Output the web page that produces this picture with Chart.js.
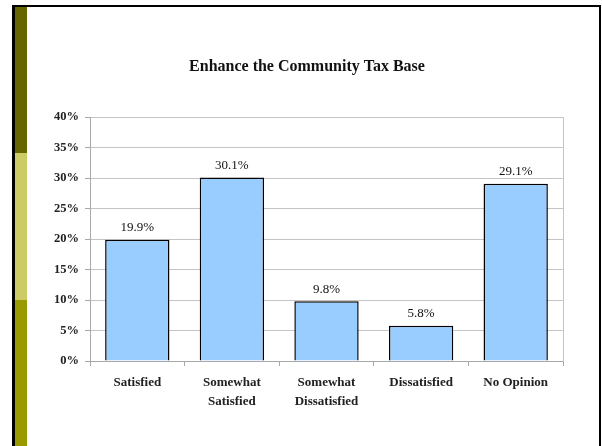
<!DOCTYPE html>
<html>
<head>
<meta charset="utf-8">
<script src="https://cdn.jsdelivr.net/npm/chart.js@4"></script>
<style>
  html, body { margin: 0; padding: 0; background: #fff; }
  #wrap { position: relative; width: 602px; height: 446px; overflow: hidden; }
  #frame {
    position: absolute; left: 12px; top: 5px; width: 584px; height: 460px;
    border-top: 2px solid #000; border-left: 3px solid #000; border-right: 2px solid #000;
  }
  .stripe { position: absolute; left: 15px; width: 12px; }
  #chart { position: absolute; left: 0; top: 0; }
</style>
</head>
<body>
<div id="wrap">
  <div id="frame"></div>
  <div class="stripe" style="top:7px;height:146px;background:#666600"></div>
  <div class="stripe" style="top:153px;height:147px;background:#cccc66"></div>
  <div class="stripe" style="top:300px;height:146px;background:#999900"></div>
  <canvas id="chart" width="602" height="446"></canvas>
</div>
<script>
// Chart data
const categories = [['Satisfied'], ['Somewhat', 'Satisfied'], ['Somewhat', 'Dissatisfied'], ['Dissatisfied'], ['No Opinion']];
const percentValues = [19.9, 30.1, 9.8, 5.8, 29.1];
const yTicks = [0, 5, 10, 15, 20, 25, 30, 35, 40];

const chartTitle = 'Enhance the Community Tax Base';
const serif = "'Liberation Serif', 'DejaVu Serif', serif";
const gridGray = '#c4c4c4';
const axisGray = '#a8a8a8';

// draw the value above each bar
const barLabels = {
  id: 'barLabels',
  afterDatasetsDraw(chart) {
    const ctx = chart.ctx;
    const meta = chart.getDatasetMeta(0);
    ctx.save();
    ctx.font = '13px ' + serif;
    ctx.fillStyle = '#111';
    ctx.textAlign = 'center';
    ctx.textBaseline = 'middle';
    meta.data.forEach((bar, i) => {
      ctx.fillText(percentValues[i].toFixed(1) + '%', bar.x, bar.y - 12);
    });
    ctx.restore();
  }
};

new Chart(document.getElementById('chart'), {
  type: 'bar',
  data: {
    labels: categories,
    datasets: [{
      data: percentValues,
      backgroundColor: '#99ccff',
      borderColor: '#000',
      borderWidth: 1.5,
      categoryPercentage: 1,
      barPercentage: 0.68
    }]
  },
  options: {
    responsive: false,
    animation: false,
    layout: { padding: { left: 12, right: 0, top: 0, bottom: 0 } },
    plugins: {
      legend: { display: false },
      tooltip: { enabled: false },
      title: {
        display: true,
        text: chartTitle,
        color: '#111',
        font: { family: serif, size: 16, weight: 'bold' },
        padding: { top: 57, bottom: 41 }
      }
    },
    scales: {
      x: {
        grid: { drawOnChartArea: false, color: axisGray, tickLength: 5 },
        border: { color: axisGray, width: 1 },
        ticks: {
          color: '#222',
          padding: 7,
          maxRotation: 0,
          autoSkip: false,
          font: { family: serif, size: 13, weight: 'bold', lineHeight: '19px' }
        },
        afterFit: s => { s.height = 85; }
      },
      y: {
        min: 0,
        max: 40,
        afterBuildTicks: s => { s.ticks = yTicks.map(v => ({ value: v })); },
        grid: { color: gridGray, tickColor: axisGray, tickLength: 5 },
        border: { color: axisGray, width: 1 },
        ticks: {
          color: '#222',
          padding: 6,
          font: { family: serif, size: 12.5, weight: 'bold' },
          callback: v => v + '%'
        },
        afterFit: s => { s.width = 78; }
      },
      yRight: {
        position: 'right',
        min: 0,
        max: 40,
        grid: { drawOnChartArea: false, drawTicks: false },
        border: { color: gridGray, width: 1 },
        ticks: { display: false },
        afterFit: s => { s.width = 39; }
      }
    }
  },
  plugins: [barLabels]
});
</script>
</body>
</html>
